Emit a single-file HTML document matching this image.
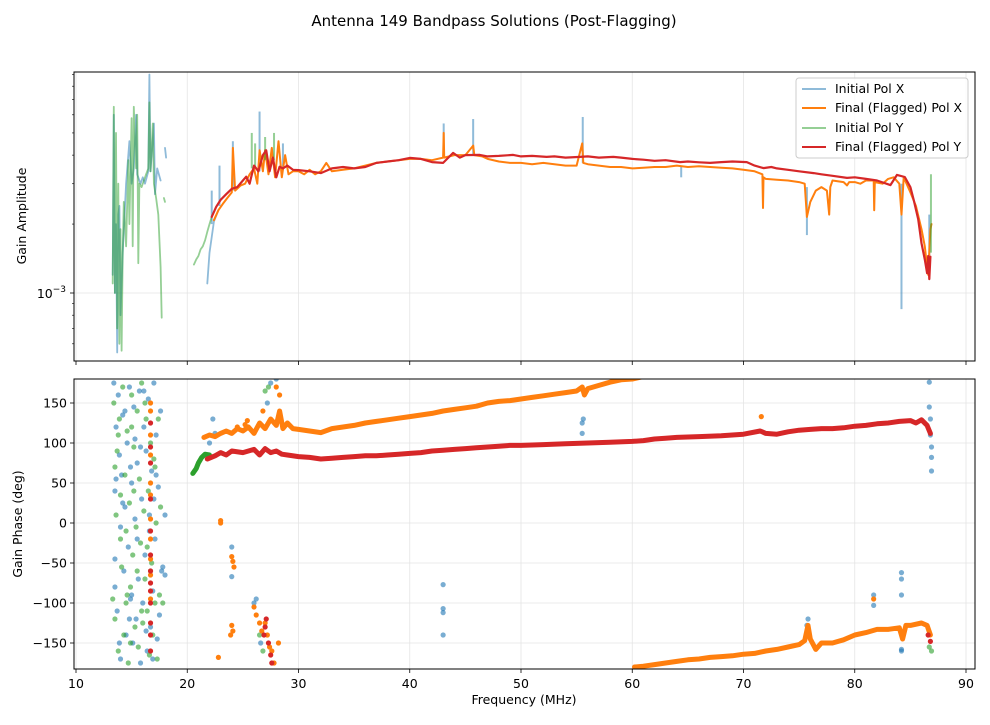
<!DOCTYPE html>
<html><head><meta charset="utf-8">
<style>
body{margin:0;background:#fff;font-family:"Liberation Sans","DejaVu Sans",sans-serif;}
svg text{font-family:"DejaVu Sans","Liberation Sans",sans-serif;}
</style></head>
<body>
<svg id="chart" width="990" height="720" xmlns="http://www.w3.org/2000/svg">
<text x="494" y="26" font-size="15" text-anchor="middle" fill="#000">Antenna 149 Bandpass Solutions (Post-Flagging)</text>
<defs>
<clipPath id="clipTop"><rect x="74" y="72" width="901" height="289"/></clipPath>
<clipPath id="clipBot"><rect x="74" y="379" width="901" height="290"/></clipPath>
</defs>
<g id="gridTop"></g>
<g id="gridBot"></g>
<g id="marksTop" clip-path="url(#clipTop)"></g>
<g id="marksBot" clip-path="url(#clipBot)"></g>
<rect x="74" y="72" width="901" height="289" fill="none" stroke="#000" stroke-width="1"/>
<rect x="74" y="379" width="901" height="290" fill="none" stroke="#000" stroke-width="1"/>
<g id="axes"></g>
<text transform="translate(26,216) rotate(-90)" font-size="12.5" text-anchor="middle">Gain Amplitude</text>
<text transform="translate(22,524) rotate(-90)" font-size="12.5" text-anchor="middle">Gain Phase (deg)</text>
<text x="524" y="704" font-size="12.5" text-anchor="middle">Frequency (MHz)</text>
<g>
<rect x="796" y="78" width="172" height="80" rx="3" fill="#fff" fill-opacity="0.8" stroke="#ccc"/>
<g><line x1="802" y1="89" x2="826" y2="89" stroke="#1f77b4" stroke-opacity="0.5" stroke-width="2"/><text x="835" y="93" font-size="12.5">Initial Pol X</text></g>
<g><line x1="802" y1="108" x2="826" y2="108" stroke="#ff7f0e" stroke-width="2"/><text x="835" y="112" font-size="12.5">Final (Flagged) Pol X</text></g>
<g><line x1="802" y1="128" x2="826" y2="128" stroke="#2ca02c" stroke-opacity="0.5" stroke-width="2"/><text x="835" y="132" font-size="12.5">Initial Pol Y</text></g>
<g><line x1="802" y1="147" x2="826" y2="147" stroke="#d62728" stroke-width="2"/><text x="835" y="151" font-size="12.5">Final (Flagged) Pol Y</text></g>
</g>
</svg>
<script>
// ---- data (amplitude in units of 1e-3) ----
const xTicks=[10,20,30,40,50,60,70,80,90];
const phaseTicks=[-150,-100,-50,0,50,100,150];
const ampMinorTicks=[0.6,0.7,0.8,0.9,2,3,4,5,6,7,8,9];
const blueLowF=[13.3,13.4,13.5,13.6,13.7,13.8,13.9,14.0,14.2,14.5,14.8,15.0,15.2,15.4,15.5,15.8,16.0,16.2,16.5,16.6,16.7,17.0,17.1,17.3,17.6];
const blueLowV=[1.2,6.0,1.0,2.0,0.55,2.2,2.4,0.8,1.5,3.0,4.6,3.0,3.5,6.0,3.3,3.0,3.2,3.0,3.4,9.0,3.4,5.5,2.7,3.5,3.1];
const blueTailF=[18.0,18.1];
const blueTailV=[4.3,3.9];
const blueRiseF=[21.8,22.0,22.2,22.4,22.8];
const blueRiseV=[1.1,1.5,1.75,2.05,2.3];
const blueSpikeF=[22.2,22.9,24.1,26.5,28.6,43.05,45.7,55.55,64.4,75.7,84.2,86.7];
const blueSpikeBase=[2.0,2.4,2.8,3.4,3.5,3.9,4.0,3.7,3.6,2.9,3.0,1.4];
const blueSpikePeak=[2.8,3.6,4.6,6.2,4.5,5.5,5.75,5.87,3.2,1.79,0.85,2.2];
const greenLowF=[13.3,13.4,13.5,13.6,13.7,13.8,13.9,14.0,14.1,14.2,14.3,14.5,14.7,14.8,15.0,15.1,15.2,15.4,15.5,15.6,15.7,15.9,16.1,16.3,16.5,16.6,16.7,16.9,17.0,17.2,17.4,17.6,17.7];
const greenLowV=[1.1,6.5,1.0,5.0,0.7,3.0,0.6,1.9,0.56,1.5,2.5,1.6,3.8,2.0,5.8,1.6,6.5,3.5,6.0,1.35,3.0,2.9,3.1,3.3,3.5,6.8,3.4,5.5,3.0,2.6,2.2,1.3,0.78];
const greenTailF=[17.9,18.0];
const greenTailV=[2.6,2.5];
const greenRiseF=[20.6,20.8,21.0,21.2,21.4,21.6,21.8,22.0,22.2];
const greenRiseV=[1.33,1.4,1.45,1.55,1.6,1.7,1.85,2.0,2.15];
const greenSpikeF=[25.8,26.1,27.0,27.8,86.85];
const greenSpikeBase=[3.5,3.5,3.8,3.8,1.5];
const greenSpikePeak=[5.0,4.5,4.8,5.0,3.3];
const orangeAmpF=[22.4,22.8,23.2,23.6,24,24.1,24.3,24.8,25.2,25.6,26,26.3,26.5,26.8,27,27.3,27.6,27.9,28.2,28.5,28.8,29.1,29.5,30,30.5,31,31.5,32,32.5,33,34,35,36,37,38,39,40,41,42,43,43.05,43.1,44,45,45.7,45.8,46.5,47,48,49,50,51,52,53,54,55,55.5,55.6,56,57,58,59,60,61,62,63,64,65,66,67,68,69,70,71,71.7,71.75,71.8,72,73,74,75,75.5,75.7,76,76.5,77,77.5,77.7,77.8,78,79,79.3,79.5,80,80.5,81,81.7,81.75,81.8,82.5,83,83.5,84,84.2,84.4,85,85.5,86,86.3,86.5,86.6,86.8,86.9];
const orangeAmpV=[2.08,2.3,2.45,2.6,2.75,4.3,2.8,2.95,3.0,3.3,3.5,3.0,4.2,3.4,4.2,3.3,4.3,3.2,4.6,3.2,4.0,3.3,3.4,3.4,3.3,3.45,3.3,3.4,3.7,3.4,3.45,3.5,3.6,3.7,3.75,3.8,3.85,3.85,3.8,3.9,5.0,3.9,4.0,4.0,4.4,4.0,3.95,3.85,3.75,3.7,3.7,3.65,3.7,3.65,3.6,3.6,4.5,3.7,3.65,3.6,3.55,3.55,3.5,3.52,3.55,3.55,3.6,3.55,3.58,3.55,3.52,3.5,3.45,3.4,3.3,2.35,3.2,3.15,3.12,3.1,3.05,3.0,2.15,2.5,2.8,2.9,2.8,2.2,2.9,3.1,3.05,2.95,3.05,3.05,3.0,3.1,3.1,2.3,3.05,3.0,3.15,3.2,3.0,2.2,3.2,2.75,2.4,1.9,1.6,1.3,1.2,1.9,2.0];
const redAmpF=[22.2,22.6,23,23.5,24,24.5,25,25.3,25.6,26,26.4,26.8,27.1,27.4,27.7,28,28.3,28.6,29,29.5,30,31,32,33,34,35,36,37,38,39,40,41,42,43,43.9,44.5,45,46.3,47,48,49.3,50,51,52.3,53,54,55.3,56,57,58.3,59,60,61,62,63,64.3,65,66,67,68,69,70.3,71,71.8,72.5,73,74,75,76.3,77,78,79.3,80,81,82,83.2,83.8,84.5,85,85.3,85.7,86,86.3,86.5,86.6,86.7,86.8];
const redAmpV=[2.15,2.38,2.55,2.7,2.85,2.9,3.1,3.22,3.0,3.6,3.4,4.0,4.2,3.4,3.9,3.2,3.56,3.5,3.6,3.45,3.44,3.4,3.34,3.5,3.55,3.5,3.55,3.7,3.75,3.8,3.89,3.85,3.73,3.7,4.09,3.9,4.0,4.01,3.95,3.97,4.01,3.95,3.97,3.93,3.95,3.9,3.93,3.95,3.9,3.93,3.9,3.85,3.82,3.78,3.8,3.73,3.75,3.72,3.7,3.73,3.75,3.73,3.6,3.51,3.55,3.5,3.45,3.4,3.34,3.3,3.25,3.18,3.2,3.15,3.1,2.96,3.28,3.21,2.9,2.55,2.1,1.65,1.4,1.22,1.45,1.15,1.44];
// ---- phase data (deg) ----
const orangeUpF=[21.5,22,22.5,23,23.5,24,24.5,25,25.5,26,26.5,27,27.5,28,28.3,28.6,29,29.5,30,31,32,33,34,35,36,37,38,39,40,41,42,43,44,45,46,47,48,49,50,51,52,53,54,55,55.5,55.7,56,57,58,59,60,61];
const orangeUpV=[107,110,108,112,115,112,118,115,120,112,125,118,130,122,140,118,125,118,117,115,113,118,120,122,125,127,129,131,133,135,137,140,142,144,146,150,152,153,155,157,159,161,163,165,170,160,168,172,176,179,180,183];
const orangeLowF=[60.2,61,62,63,64,65,66,67,68,69,70,71,72,73,74,75,75.5,75.8,76,76.5,77,78,79,80,81,82,83,84,84.3,84.6,85,86,86.5,86.8];
const orangeLowV=[-180,-179,-177,-175,-173,-171,-170,-168,-167,-166,-164,-163,-160,-158,-155,-152,-147,-128,-145,-158,-150,-150,-146,-140,-137,-133,-133,-131,-145,-128,-128,-125,-128,-140];
const redPhF=[21.8,22.5,23,23.5,24,25,26,26.5,27,27.5,28,28.5,29,30,31,32,33,34,35,36,37,38,39,40,41,42,43,44,45,46,47,48,49,50,52,54,56,58,60,61,62,63,64,66,68,70,71.5,72,73,74,75,76,77,78,79,80,81,82,83,84,85,85.5,86,86.5,86.8];
const redPhV=[80,84,88,85,90,88,92,85,93,88,90,86,85,83,82,80,81,82,83,84,84,85,86,87,88,90,91,92,93,94,95,96,97,97,98,99,100,101,102,103,105,106,107,108,109,111,115,112,111,114,116,117,118,118,119,121,122,124,125,127,128,125,129,122,112];
const greenPhF=[20.5,20.8,21,21.3,21.6,22];
const greenPhV=[62,68,75,82,86,85];
const blueDotF=[13.4,13.5,13.5,13.6,13.7,13.8,13.9,14.0,14.0,14.1,14.2,14.3,14.4,14.5,14.6,14.7,14.8,14.9,15.0,15.1,15.2,15.3,15.4,15.5,15.6,15.7,15.8,15.9,16.0,16.1,16.2,16.3,16.4,16.5,16.6,16.7,16.8,16.9,17.0,17.1,17.2,17.3,17.4,17.5,17.6,17.7,18.0,18.0,13.6,14.9,15.8,16.6,13.5,14.2,14.8,15.5,16.1,17.2,13.9,15.3,16.9,17.8,14.4,15.0,16.3,17.0,22.0,22.3,22.5,24.0,24.0,26.0,26.2,26.6,27.2,27.5,28.0,43,43,43,43,55.5,55.5,55.6,75.7,75.8,81.7,81.7,84.2,84.2,84.2,84.2,84.2,86.7,86.7,86.8,86.8,86.9,86.9,86.9];
const blueDotV=[175,40,-45,120,-110,160,85,-5,-170,60,135,-60,20,-140,100,-30,170,-95,50,-150,145,5,-120,75,-70,165,-175,30,-100,120,-40,90,-160,155,10,-130,65,-85,175,-20,110,-145,45,-115,140,-60,-65,10,55,70,95,-10,-80,25,-120,-20,165,60,-150,105,-170,-55,140,-90,-135,30,100,130,112,-67,-30,-100,-95,-150,150,175,180,-77,-107,-112,-140,112,125,130,-128,-120,-90,-103,-62,-70,-90,-158,-160,176,145,130,110,95,82,65];
const greenDotF=[13.3,13.4,13.5,13.6,13.7,13.8,13.9,14.0,14.1,14.2,14.3,14.4,14.5,14.6,14.7,14.8,14.9,15.0,15.1,15.2,15.3,15.4,15.5,15.6,15.7,15.8,15.9,16.0,16.1,16.2,16.3,16.4,16.5,16.6,16.7,16.8,16.9,17.0,17.1,17.2,17.3,17.5,17.6,17.8,14.5,15.5,16.4,15.0,13.5,14.0,14.6,15.2,15.9,16.7,17.4,13.8,14.9,16.2,17.1,26.5,26.8,27.0,27.3,86.7,86.9];
const greenDotV=[-95,150,-120,10,90,-160,130,35,-55,170,-140,60,-10,115,-175,25,-80,160,-40,95,-130,-5,140,-155,55,-25,175,-125,15,-70,130,-110,40,-165,100,-50,-140,80,-100,0,-170,-90,20,-100,-100,-60,-30,120,70,-20,-90,40,-110,-60,130,110,-150,150,70,-140,-160,165,170,-155,-160];
const redDotF=[16.7,16.7,16.7,16.7,16.7,16.7,16.7,16.7,16.7,16.7,16.7,16.7,16.7,27.0,27.3,27.5,27.1,26.9,27.6,86.6,86.8];
const redDotV=[125,95,75,30,-10,-40,-60,-75,-85,-100,-125,-140,-160,-130,-150,-165,-120,-140,-175,-140,-148];
const orangeDotF=[16.7,16.7,16.7,16.7,16.7,16.7,16.7,16.7,16.7,16.7,16.7,22.8,23.0,23.0,24.0,24.1,24.2,24.0,24.1,23.9,26.0,26.2,26.5,26.7,27.0,27.2,27.4,27.6,27.8,28.2,25.2,25.4,24.5,28.0,28.3,26.8,71.6,81.7];
const orangeDotV=[150,140,110,85,50,35,5,-20,-45,-65,-95,-168,0,3,-42,-48,-55,-128,-135,-140,-105,-115,-125,-135,-125,-140,-155,-160,-175,-150,123,128,120,170,160,140,133,-95];

// ---- scales ----
const NS='http://www.w3.org/2000/svg';
function xs(f){return 76+(f-10)*11.125;}
function ya(v){return 293-229*Math.log10(v);}
function yp(p){return 523-0.8*p;}
function mk(tag,attrs,parent){const e=document.createElementNS(NS,tag);for(const k in attrs)e.setAttribute(k,attrs[k]);parent.appendChild(e);return e;}
const gridTop=document.getElementById('gridTop'),gridBot=document.getElementById('gridBot');
const axes=document.getElementById('axes');
const mT=document.getElementById('marksTop'),mB=document.getElementById('marksBot');

xTicks.forEach(t=>{
  const x=xs(t);
  if(x>=74&&x<=975){
    const g1=mk('line',{x1:x,x2:x,y1:72,y2:361,stroke:'#e5e5e5','stroke-width':0.8},gridTop);
    
    
    const g2=mk('line',{x1:x,x2:x,y1:379,y2:669,stroke:'#e5e5e5','stroke-width':0.8},gridBot);
    
    
    const t1=mk('line',{x1:x,x2:x,y1:361,y2:365,stroke:'#000','stroke-width':0.8},axes);
    
    
    const t2=mk('line',{x1:x,x2:x,y1:669,y2:673,stroke:'#000','stroke-width':0.8},axes);
    
    
    const lb=mk('text',{x:x,y:688,'font-size':12.5,'text-anchor':'middle'},axes);
    lb.textContent=String(t);
    
    
  }
});
phaseTicks.forEach(t=>{
  const y=yp(t);
  const g=mk('line',{x1:74,x2:975,y1:y,y2:y,stroke:'#e5e5e5','stroke-width':0.8},gridBot);
  
  
  const tk=mk('line',{x1:70,x2:74,y1:y,y2:y,stroke:'#000','stroke-width':0.8},axes);
  
  
  const lb=mk('text',{x:67,y:y+4.5,'font-size':12.5,'text-anchor':'end'},axes);
  lb.textContent=t<0?'\u2212'+Math.abs(t):String(t);
  
  
});
{
  const y=ya(1);
  const g=mk('line',{x1:74,x2:975,y1:y,y2:y,stroke:'#e5e5e5','stroke-width':0.8},gridTop);
  
  
  const tk=mk('line',{x1:70,x2:74,y1:y,y2:y,stroke:'#000','stroke-width':0.8},axes);
  
  
  const lb=mk('text',{x:66,y:y+5,'font-size':12.5,'text-anchor':'end'},axes);
  lb.innerHTML='10<tspan dy="-6" font-size="9">\u22123</tspan>';
  
  
}
ampMinorTicks.forEach(v=>{
  const y=ya(v);
  if(y>72&&y<361){
    const tk=mk('line',{x1:72,x2:74,y1:y,y2:y,stroke:'#000','stroke-width':0.6},axes);
    
    
  }
});

function line(F,V,ysc,parent,color,op,w,name){
  const pts=F.map((f,i)=>xs(f).toFixed(1)+','+ysc(V[i]).toFixed(1)).join(' ');
  const p=mk('polyline',{points:pts,fill:'none',stroke:color,'stroke-opacity':op,'stroke-width':w,'stroke-linejoin':'round','stroke-linecap':'round'},parent);
  
  
}
function spikes(F,B,P,color,op,name){
  F.forEach((f,i)=>{
    const l=mk('line',{x1:xs(f),x2:xs(f),y1:ya(B[i]),y2:ya(P[i]),stroke:color,'stroke-opacity':op,'stroke-width':2},mT);
    
    
  });
}
function dots(F,V,color,op,name){
  F.forEach((f,i)=>{
    const c=mk('circle',{cx:xs(f),cy:yp(V[i]),r:2.6,fill:color,'fill-opacity':op},mB);
    
    
  });
}
line(blueLowF,blueLowV,ya,mT,'#1f77b4',0.5,1.8,'initial-pol-x-line');
line(blueTailF,blueTailV,ya,mT,'#1f77b4',0.5,1.8,'initial-pol-x-line');
line(blueRiseF,blueRiseV,ya,mT,'#1f77b4',0.5,1.8,'initial-pol-x-line');
spikes(blueSpikeF,blueSpikeBase,blueSpikePeak,'#1f77b4',0.5,'initial-pol-x-spike');
line(orangeAmpF,orangeAmpV,ya,mT,'#ff7f0e',1,2,'final-pol-x-line');
line(greenLowF,greenLowV,ya,mT,'#2ca02c',0.5,1.8,'initial-pol-y-line');
line(greenTailF,greenTailV,ya,mT,'#2ca02c',0.5,1.8,'initial-pol-y-line');
line(greenRiseF,greenRiseV,ya,mT,'#2ca02c',0.5,1.8,'initial-pol-y-line');
spikes(greenSpikeF,greenSpikeBase,greenSpikePeak,'#2ca02c',0.5,'initial-pol-y-spike');
line(redAmpF,redAmpV,ya,mT,'#d62728',1,2.2,'final-pol-y-line');
dots(blueDotF,blueDotV,'#1f77b4',0.6,'initial-pol-x-point');
dots(greenDotF,greenDotV,'#2ca02c',0.6,'initial-pol-y-point');
line(greenPhF,greenPhV,yp,mB,'#2ca02c',1,5,'initial-pol-y-phase');
line(orangeUpF,orangeUpV,yp,mB,'#ff7f0e',1,5,'final-pol-x-phase-upper');
line(orangeLowF,orangeLowV,yp,mB,'#ff7f0e',1,5,'final-pol-x-phase-lower');
dots(orangeDotF,orangeDotV,'#ff7f0e',1,'final-pol-x-point');
line(redPhF,redPhV,yp,mB,'#d62728',1,5,'final-pol-y-phase');
dots(redDotF,redDotV,'#d62728',1,'final-pol-y-point');
</script>
</body></html>
